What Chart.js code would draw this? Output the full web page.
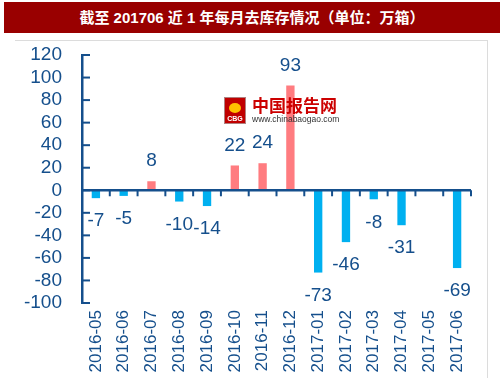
<!DOCTYPE html>
<html>
<head>
<meta charset="utf-8">
<script src="https://cdn.jsdelivr.net/npm/chart.js@4.4.1/dist/chart.umd.min.js"></script>
<style>
  html, body { margin: 0; padding: 0; background: #fff; }
  #wrap { position: relative; width: 503px; height: 378px; overflow: hidden; }
  #title {
    position: absolute; left: 4px; top: 2px; width: 496px; height: 31px;
    background: #990000; color: #fff; text-align: center;
    font: bold 15px "Liberation Sans", "Noto Sans CJK SC", sans-serif; line-height: 31px;
  }
  #frame {
    position: absolute; left: 15px; top: 40px; width: 472px; height: 400px;
    border-top: 1px solid #dcdcdc; border-right: 1px solid #dcdcdc;
  }
  canvas { position: absolute; left: 0; top: 0; }
</style>
</head>
<body>
<div id="wrap">
  <div id="title">截至 201706 近 1 年每月去库存情况（单位：万箱）</div>
  <div id="frame"></div>
  <canvas id="c" width="503" height="378"></canvas>
</div>
<script>
const categories = ['2016-05','2016-06','2016-07','2016-08','2016-09','2016-10','2016-11','2016-12','2017-01','2017-02','2017-03','2017-04','2017-05','2017-06'];
const values = [-7, -5, 8, -10, -14, 22, 24, 93, -73, -46, -8, -31, null, -69];
const yMin = -100, yMax = 120, yStep = 20;

const AXIS = '#154f8c';
const TEXT = '#154f8c';
const POS = '#ff7c80';
const NEG = '#00b0f0';
const FONT = '"Liberation Sans", Arial, sans-serif';

const axisPlugin = {
  id: 'axisPlugin',
  afterDatasetsDraw(chart) {
    const ctx = chart.ctx;
    const ys = chart.scales.y;
    const area = chart.chartArea;
    const y0 = ys.getPixelForValue(0);
    ctx.save();
    ctx.strokeStyle = AXIS;
    ctx.lineWidth = 2.5;
    ctx.beginPath();
    ctx.moveTo(area.left, y0);
    ctx.lineTo(area.right, y0);
    ctx.stroke();
    ctx.lineWidth = 2;
    const n = categories.length;
    const w = (area.right - area.left) / n;
    for (let k = 1; k <= n; k++) {
      const x = area.left + k * w;
      ctx.beginPath();
      ctx.moveTo(x, y0);
      ctx.lineTo(x, y0 + 6);
      ctx.stroke();
    }
    for (let v = yMin; v <= yMax; v += yStep) {
      const y = ys.getPixelForValue(v);
      ctx.beginPath();
      ctx.moveTo(area.left, y);
      ctx.lineTo(area.left + 8, y);
      ctx.stroke();
    }
    ctx.fillStyle = TEXT;
    ctx.font = '19px ' + FONT;
    ctx.textAlign = 'center';
    ctx.textBaseline = 'middle';
    const meta = chart.getDatasetMeta(0);
    meta.data.forEach((el, i) => {
      const v = values[i];
      if (v === null || v === undefined) return;
      const y = v >= 0 ? el.y - 20 : el.y + 23;
      ctx.fillText(String(v), el.x, y);
    });
    ctx.restore();
  },
  afterDraw(chart) {
    const ctx = chart.ctx;
    ctx.save();
    ctx.fillStyle = '#c00000';
    ctx.fillRect(224, 97, 22, 27);
    ctx.strokeStyle = '#b08080';
    ctx.lineWidth = 1;
    ctx.strokeRect(224.5, 97.5, 21, 26);
    ctx.fillStyle = '#ffc000';
    ctx.beginPath();
    ctx.ellipse(235, 108, 6, 5, 0, 0, Math.PI * 2);
    ctx.fill();
    ctx.fillStyle = '#fff';
    ctx.font = 'bold 7px ' + FONT;
    ctx.textAlign = 'center';
    ctx.textBaseline = 'middle';
    ctx.fillText('CBG', 235, 119);
    ctx.fillStyle = '#cc0000';
    ctx.font = 'bold 17px "Noto Sans CJK SC", sans-serif';
    ctx.textAlign = 'left';
    ctx.textBaseline = 'middle';
    ctx.fillText('中国报告网', 252, 106);
    ctx.fillStyle = '#333';
    ctx.font = '8.5px ' + FONT;
    ctx.fillText('www.chinabaogao.com', 252, 120);
    ctx.restore();
  }
};

new Chart(document.getElementById('c'), {
  type: 'bar',
  data: {
    labels: categories,
    datasets: [{
      data: values,
      backgroundColor: values.map(v => (v !== null && v >= 0) ? POS : NEG),
      borderWidth: 0,
      barPercentage: 0.3,
      categoryPercentage: 1.0
    }]
  },
  options: {
    responsive: false,
    animation: false,
    devicePixelRatio: 1,
    layout: { padding: { top: 55, right: 32, left: 0, bottom: 0 } },
    plugins: { legend: { display: false }, tooltip: { enabled: false }, title: { display: false } },
    scales: {
      x: {
        position: 'bottom',
        grid: { display: false, drawTicks: false },
        border: { display: false },
        ticks: {
          autoSkip: false, minRotation: 90, maxRotation: 90, padding: 7,
          color: TEXT, font: { family: FONT, size: 17 }
        },
        afterFit(s) { s.height = 75; }
      },
      y: {
        min: yMin, max: yMax,
        grid: { display: false, drawTicks: false },
        border: { display: true, color: AXIS, width: 2.5 },
        ticks: {
          stepSize: yStep, padding: 20, color: TEXT, autoSkip: false,
          font: { family: FONT, size: 19 }
        },
        afterFit(s) { s.width = 82; }
      }
    }
  },
  plugins: [axisPlugin]
});
</script>
</body>
</html>
